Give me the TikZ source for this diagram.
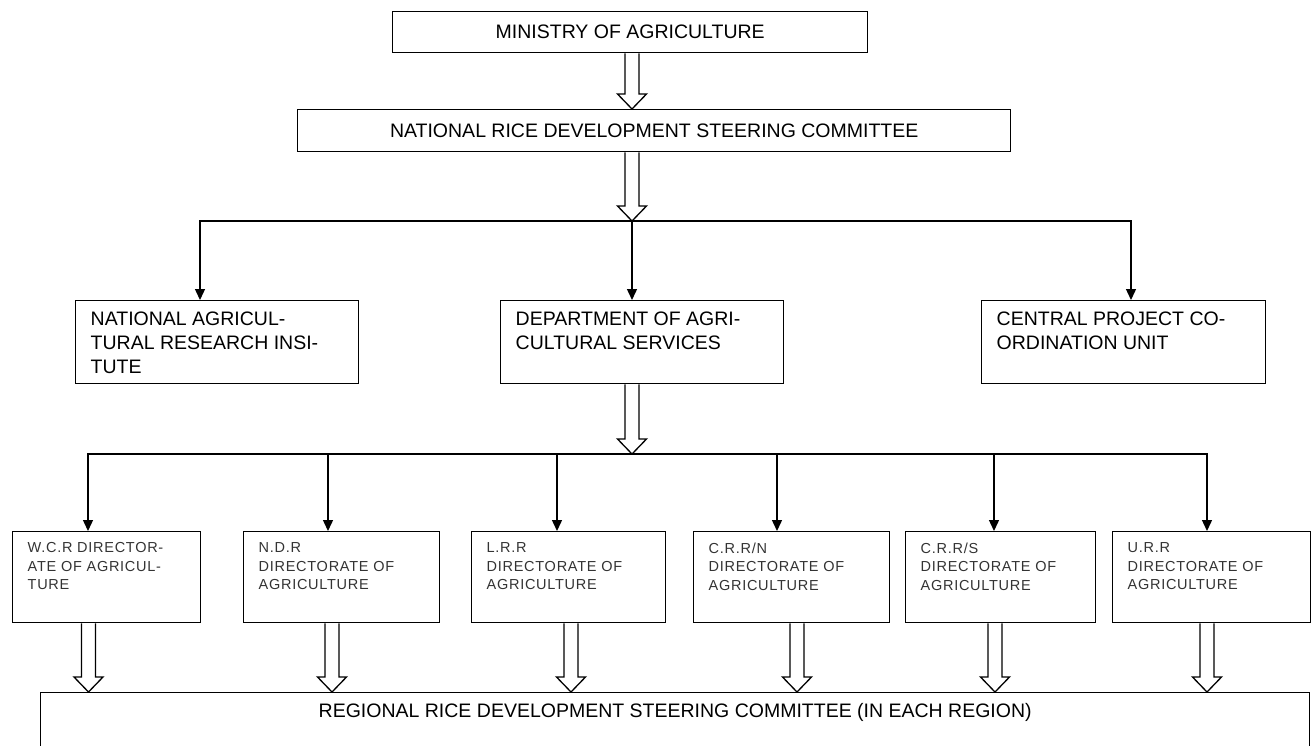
\documentclass[tikz,border=0pt]{standalone}
\usepackage{fontspec}
\setmainfont{Liberation Sans}
\newfontfamily\smallfont[LetterSpace=5]{Liberation Sans}
\usetikzlibrary{arrows.meta,calc}
\tikzset{
  box/.style={draw, line width=1.4pt, inner sep=0pt, anchor=north west},
  bigtxt/.style={font=\fontsize{19.5}{24}\selectfont},
  smalltxt/.style={font=\smallfont\fontsize{14.5}{18.5}\selectfont, text=black!80},
  conn/.style={line width=1.4pt, -{Triangle[length=11pt,width=10pt]}},
  hollowarrow/.style={line width=1.3pt, line join=miter},
}
% #1 width, #2 height, #3 top gap, #4 text
\newcommand\tbox[4]{\parbox[c][#2pt][t]{#1pt}{\vspace*{#3pt}\raggedright\leftskip=15pt #4}}
% hollow block arrow from #1 (start, x taken from it) down to the y of #2
\newcommand\hollow[2]{\draw[hollowarrow] let \p1=#1, \p2=#2 in
  (\x1-7pt,\y1) -- (\x1-7pt,\y2+15pt) -- (\x1-14.5pt,\y2+15pt) -- (\x1,\y2)
  -- (\x1+14.5pt,\y2+15pt) -- (\x1+7pt,\y2+15pt) -- (\x1+7pt,\y1);}
\begin{document}
\begin{tikzpicture}[x=1pt,y=-1pt]
\useasboundingbox (0,0) rectangle (1312,745);
% top level
\node[box, bigtxt, minimum width=475pt, minimum height=41pt] (min) at (392,11) {MINISTRY OF AGRICULTURE};
\node[box, bigtxt, minimum width=713pt, minimum height=42pt] (nrd) at (297,109) {NATIONAL RICE DEVELOPMENT STEERING COMMITTEE};
% middle level
\node[box, bigtxt] (nari) at (75,300) {\tbox{283}{83}{11}{NATIONAL AGRICUL-\\TURAL RESEARCH INSI-\\TUTE}};
\node[box, bigtxt] (das) at (500,300) {\tbox{283}{83}{11}{DEPARTMENT OF AGRI-\\CULTURAL SERVICES}};
\node[box, bigtxt] (cpcu) at (981,300) {\tbox{284}{83}{11}{CENTRAL PROJECT CO-\\ORDINATION UNIT}};
% bottom row
\node[box, smalltxt] (wcr) at (12,531) {\tbox{188}{91}{11}{W.C.R DIRECTOR-\\ATE OF AGRICUL-\\TURE}};
\node[box, smalltxt] (ndr) at (243,531) {\tbox{196}{91}{11}{N.D.R\\DIRECTORATE OF\\AGRICULTURE}};
\node[box, smalltxt] (lrr) at (471,531) {\tbox{194}{91}{11}{L.R.R\\DIRECTORATE OF\\AGRICULTURE}};
\node[box, smalltxt] (crrn) at (693,531) {\tbox{196}{91}{11}{C.R.R/N\\DIRECTORATE OF\\AGRICULTURE}};
\node[box, smalltxt] (crrs) at (905,531) {\tbox{190}{91}{11}{C.R.R/S\\DIRECTORATE OF\\AGRICULTURE}};
\node[box, smalltxt] (urr) at (1112,531) {\tbox{198}{91}{11}{U.R.R\\DIRECTORATE OF\\AGRICULTURE}};
% regional committee
\node[box, bigtxt] (reg) at (40,692) {\parbox[c][80pt][t]{1269pt}{\vspace*{11pt}\centering REGIONAL RICE DEVELOPMENT STEERING COMMITTEE (IN EACH REGION)}};
% junctions
\coordinate (j1) at (632,221);
\coordinate (j2) at (632,454);
% hollow arrows
\hollow{([xshift=240pt]min.south west)}{(nrd.north)}
\hollow{([xshift=335pt]nrd.south west)}{(j1)}
\hollow{([xshift=132pt]das.south west)}{(j2)}
\hollow{([xshift=76.5pt]wcr.south west)}{(reg.north)}
\hollow{([xshift=89pt]ndr.south west)}{(reg.north)}
\hollow{([xshift=100pt]lrr.south west)}{(reg.north)}
\hollow{([xshift=104pt]crrn.south west)}{(reg.north)}
\hollow{([xshift=90pt]crrs.south west)}{(reg.north)}
\hollow{([xshift=95pt]urr.south west)}{(reg.north)}
% branch connectors
\draw[conn] (j1) -| ([xshift=125pt]nari.north west);
\draw[conn] (j1) -- ([xshift=132pt]das.north west);
\draw[conn] (j1) -| ([xshift=150pt]cpcu.north west);
\draw[conn] (j2) -| ([xshift=76pt]wcr.north west);
\draw[conn] (j2) -| ([xshift=85pt]ndr.north west);
\draw[conn] (j2) -| ([xshift=86pt]lrr.north west);
\draw[conn] (j2) -| ([xshift=84pt]crrn.north west);
\draw[conn] (j2) -| ([xshift=89pt]crrs.north west);
\draw[conn] (j2) -| ([xshift=95pt]urr.north west);
\end{tikzpicture}
\end{document}
